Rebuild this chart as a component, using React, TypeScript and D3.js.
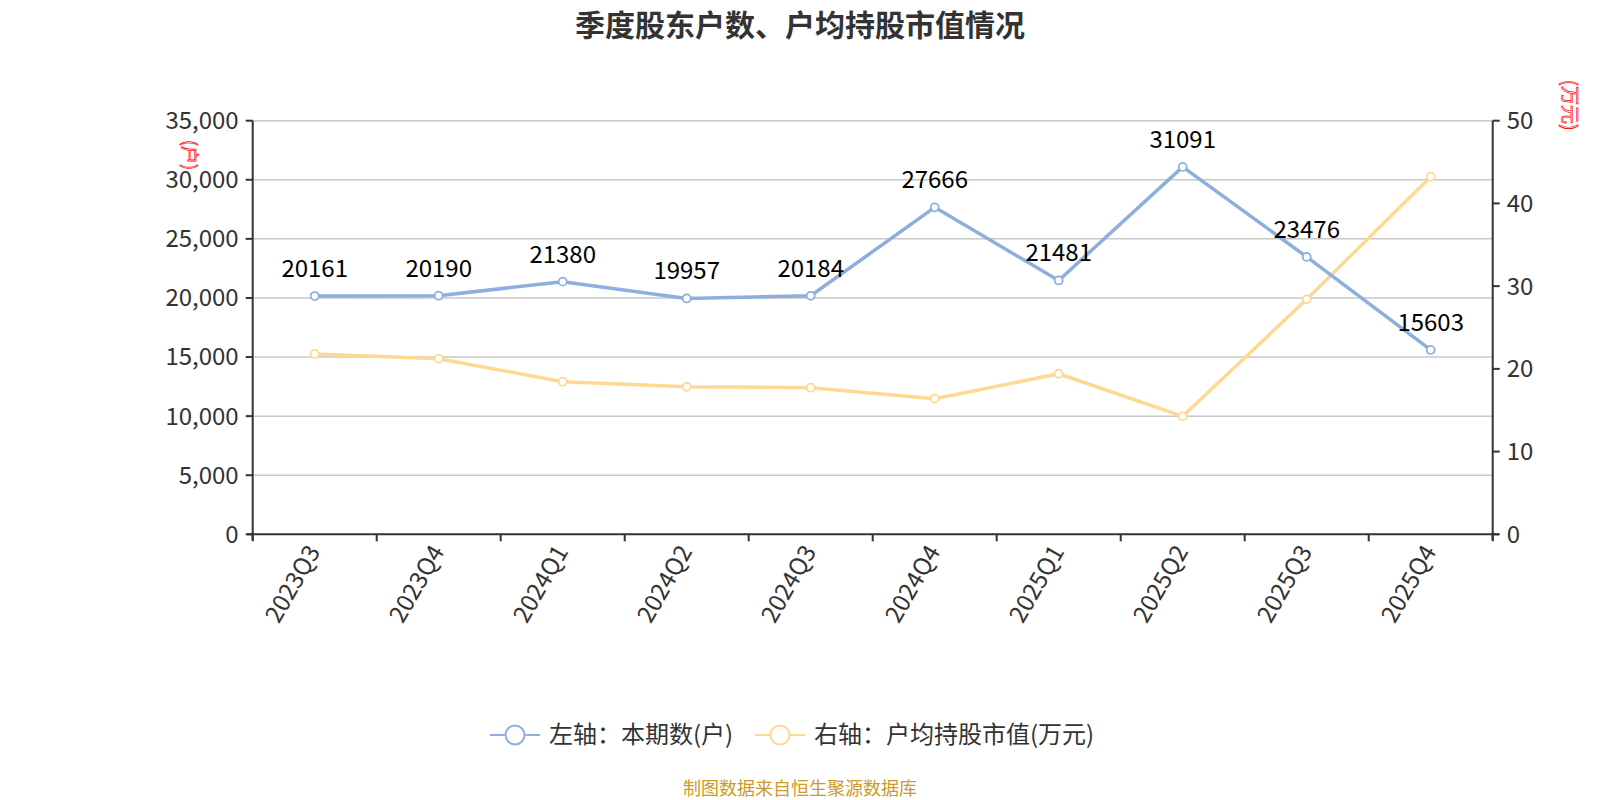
import { useEffect, useRef } from 'react';
import * as d3 from 'd3';

const categories = ['2023Q3', '2023Q4', '2024Q1', '2024Q2', '2024Q3', '2024Q4', '2025Q1', '2025Q2', '2025Q3', '2025Q4'];
// 左轴：本期数(户)
const holderCounts = [20161, 20190, 21380, 19957, 20184, 27666, 21481, 31091, 23476, 15603];
// 右轴：户均持股市值(万元)
const avgHolding = [21.8, 21.23, 18.45, 17.84, 17.72, 16.39, 19.41, 14.26, 28.41, 43.23];
const leftTicks = [0, 5000, 10000, 15000, 20000, 25000, 30000, 35000];
const rightTicks = [0, 10, 20, 30, 40, 50];
const legendNames = ['左轴：本期数(户)', '右轴：户均持股市值(万元)'];

const FONT = '"Noto Sans CJK SC", "Noto Sans", sans-serif';
const BLUE = '#8eaedd';
const YELLOW = '#ffd894';

function App() {
    const svgRef = useRef<SVGSVGElement>(null);

    useEffect(() => {
        if (!svgRef.current) return;
        const svg = d3.select(svgRef.current);
        svg.selectAll('*').remove();

        const width = 1600;
        const height = 800;
        const left = 252.7, right = 1492.7, top = 120.7, bottom = 534.3;

        const x = d3.scaleBand<string>().domain(categories).range([left, right]).padding(0);
        const yL = d3.scaleLinear().domain([0, 35000]).range([bottom, top]);
        const yR = d3.scaleLinear().domain([0, 50]).range([bottom, top]);
        const cx = (c: string) => (x(c) as number) + x.bandwidth() / 2;

        svg.attr('width', width).attr('height', height).style('font-family', FONT);

        // title
        svg.append('text')
            .attr('x', width / 2)
            .attr('y', 23)
            .attr('text-anchor', 'middle')
            .attr('dominant-baseline', 'central')
            .attr('font-size', 30)
            .attr('font-weight', 'bold')
            .attr('fill', '#333')
            .text('季度股东户数、户均持股市值情况');

        // grid
        svg.append('g').selectAll('line')
            .data(leftTicks.slice(1))
            .join('line')
            .attr('x1', left).attr('x2', right)
            .attr('y1', d => yL(d)).attr('y2', d => yL(d))
            .attr('stroke', '#c8c8c8')
            .attr('stroke-width', 1.5);

        // left axis
        const gL = svg.append('g');
        gL.append('line').attr('x1', left).attr('x2', left).attr('y1', top).attr('y2', bottom + 6)
            .attr('stroke', '#333').attr('stroke-width', 2);
        gL.selectAll('line.tick').data(leftTicks).join('line').attr('class', 'tick')
            .attr('x1', left - 7).attr('x2', left)
            .attr('y1', d => yL(d)).attr('y2', d => yL(d))
            .attr('stroke', '#333').attr('stroke-width', 2);
        gL.selectAll('text').data(leftTicks).join('text')
            .attr('x', left - 14)
            .attr('y', d => yL(d))
            .attr('dy', '0.35em')
            .attr('text-anchor', 'end')
            .attr('font-size', 24)
            .attr('fill', '#333')
            .text(d => d3.format(',')(d));

        // right axis
        const gR = svg.append('g');
        gR.append('line').attr('x1', right).attr('x2', right).attr('y1', top).attr('y2', bottom + 6)
            .attr('stroke', '#333').attr('stroke-width', 2);
        gR.selectAll('line.tick').data(rightTicks).join('line').attr('class', 'tick')
            .attr('x1', right).attr('x2', right + 7)
            .attr('y1', d => yR(d)).attr('y2', d => yR(d))
            .attr('stroke', '#333').attr('stroke-width', 2);
        gR.selectAll('text').data(rightTicks).join('text')
            .attr('x', right + 14)
            .attr('y', d => yR(d))
            .attr('dy', '0.35em')
            .attr('text-anchor', 'start')
            .attr('font-size', 24)
            .attr('fill', '#333')
            .text(d => String(d));

        // unit labels
        const unit = (tx: number, ty: number, label: string, size: number) => {
            svg.append('text')
                .attr('transform', `translate(${tx},${ty}) rotate(90)`)
                .attr('text-anchor', 'middle')
                .attr('dominant-baseline', 'central')
                .attr('font-size', size)
                .attr('fill', '#fff')
                .attr('stroke', 'red')
                .attr('stroke-width', 0.7)
                .text(label);
        };
        unit(191, 155, '(户)', 18);
        unit(1571, 105, '(万元)', 19);

        // x axis
        const gX = svg.append('g');
        gX.append('line').attr('x1', left - 6).attr('x2', right + 6).attr('y1', bottom).attr('y2', bottom)
            .attr('stroke', '#333').attr('stroke-width', 2);
        const bounds = categories.map(c => x(c) as number).concat([right]);
        gX.selectAll('line.tick').data(bounds).join('line').attr('class', 'tick')
            .attr('x1', d => d).attr('x2', d => d)
            .attr('y1', bottom).attr('y2', bottom + 7)
            .attr('stroke', '#333').attr('stroke-width', 2);
        gX.selectAll('text').data(categories).join('text')
            .attr('transform', d => `translate(${cx(d) - 1},${bottom + 13}) rotate(-60)`)
            .attr('text-anchor', 'end')
            .attr('dy', '0.35em')
            .attr('font-size', 24)
            .attr('fill', '#333')
            .text(d => d);

        // series
        const drawSeries = (values: number[], y: d3.ScaleLinear<number, number>, color: string) => {
            const pts: [number, number][] = values.map((v, i) => [cx(categories[i]), y(v)]);
            svg.append('path')
                .attr('d', d3.line()(pts) as string)
                .attr('fill', 'none')
                .attr('stroke', color)
                .attr('stroke-width', 3.5)
                .attr('stroke-linejoin', 'round');
            svg.append('g').selectAll('circle').data(pts).join('circle')
                .attr('cx', d => d[0]).attr('cy', d => d[1])
                .attr('r', 4)
                .attr('fill', '#fff')
                .attr('stroke', color)
                .attr('stroke-width', 1.8);
            return pts;
        };
        drawSeries(avgHolding, yR, YELLOW);
        const bluePts = drawSeries(holderCounts, yL, BLUE);

        svg.append('g').selectAll('text').data(holderCounts).join('text')
            .attr('x', (d, i) => bluePts[i][0])
            .attr('y', (d, i) => bluePts[i][1] - 19)
            .attr('text-anchor', 'middle')
            .attr('font-size', 24)
            .attr('fill', '#000')
            .text(d => String(d));

        // legend
        const legendItems = [
            { name: legendNames[0], color: BLUE, x0: 490 },
            { name: legendNames[1], color: YELLOW, x0: 755 },
        ];
        const gLeg = svg.append('g');
        legendItems.forEach(item => {
            const ly = 735;
            gLeg.append('line').attr('x1', item.x0).attr('x2', item.x0 + 50).attr('y1', ly).attr('y2', ly)
                .attr('stroke', item.color).attr('stroke-width', 2);
            gLeg.append('circle').attr('cx', item.x0 + 25).attr('cy', ly).attr('r', 9.5)
                .attr('fill', '#fff').attr('stroke', item.color).attr('stroke-width', 2);
            gLeg.append('text').attr('x', item.x0 + 59).attr('y', ly)
                .attr('dy', '0.35em')
                .attr('font-size', 24)
                .attr('fill', '#333')
                .text(item.name);
        });

        // source
        svg.append('text')
            .attr('x', width / 2)
            .attr('y', 789)
            .attr('dy', '0.35em')
            .attr('text-anchor', 'middle')
            .attr('font-size', 18)
            .attr('fill', '#cc9a2a')
            .text('制图数据来自恒生聚源数据库');
    }, []);

    return <svg ref={svgRef} style={{ position: 'absolute', left: 0, top: 0, display: 'block' }}></svg>;
}

export default App;
